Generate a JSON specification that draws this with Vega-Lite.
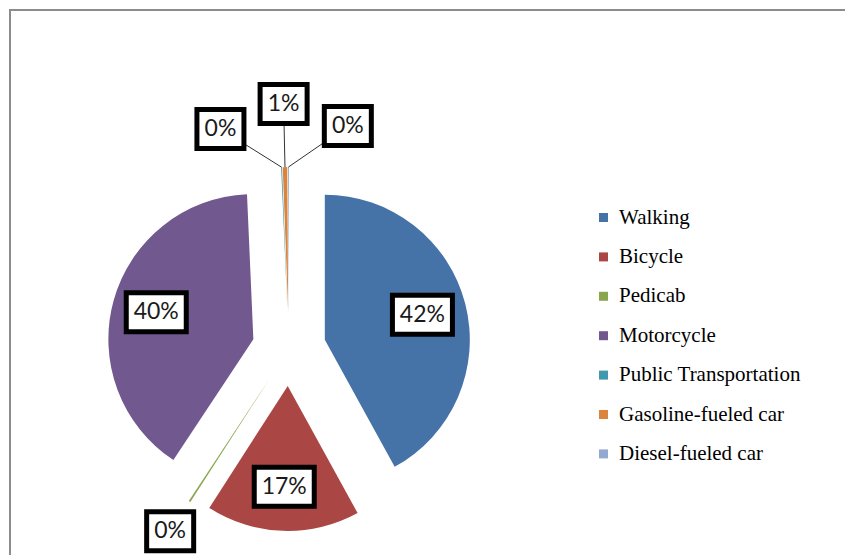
{
  "$schema": "https://vega.github.io/schema/vega-lite/v6.json",
  "width": 835,
  "height": 545,
  "autosize": "none",
  "padding": {"left": 10, "top": 10, "right": 0, "bottom": 0},
  "background": "white",
  "config": {"view": {"stroke": "#8c8c8c", "strokeWidth": 2, "strokeDash": [835, 1380, 545]}},
  "data": {"values": [
    {"mode": "Walking", "share": 0.420},
    {"mode": "Bicycle", "share": 0.171},
    {"mode": "Pedicab", "share": 0.002},
    {"mode": "Motorcycle", "share": 0.400},
    {"mode": "Public Transportation", "share": 0.001},
    {"mode": "Gasoline-fueled car", "share": 0.005},
    {"mode": "Diesel-fueled car", "share": 0.001}
  ]},
  "transform": [
    {"window": [{"op": "sum", "field": "share", "as": "end"}], "frame": [null, 0]},
    {"calculate": "datum.end - datum.share", "as": "start"},
    {"calculate": "2 * PI * (datum.start + datum.end) / 2", "as": "a"},
    {"calculate": "datum.share < 0.05 && (datum.start + datum.end) / 2 > 0.9 ? 1 : 0", "as": "cluster"},
    {"window": [{"op": "row_number", "as": "rk"}], "groupby": ["cluster"]},
    {"joinaggregate": [{"op": "count", "as": "n"}, {"op": "mean", "field": "a", "as": "ma"}], "groupby": ["cluster"]},
    {"calculate": "datum.cluster == 1 ? datum.rk - (datum.n + 1) / 2 : 0", "as": "k"},
    {"calculate": "datum.cluster == 1 ? datum.ma + datum.k * 0.28 : datum.a", "as": "la"},
    {"calculate": "datum.share >= 0.05 ? 0.95 : (datum.cluster == 1 ? 1.69 - 0.1 * abs(datum.k) : 1.5)", "as": "ld"},
    {"calculate": "0.255 * sin(datum.a)", "as": "cx"},
    {"calculate": "0.255 * cos(datum.a)", "as": "cy"},
    {"calculate": "1.255 * sin(datum.a)", "as": "tx"},
    {"calculate": "1.255 * cos(datum.a)", "as": "ty"},
    {"calculate": "datum.ld * sin(datum.la)", "as": "lx"},
    {"calculate": "datum.ld * cos(datum.la)", "as": "ly"},
    {"calculate": "format(datum.share, '.0%')", "as": "label"},
    {"calculate": "length(datum.label) > 2 ? 'wide' : 'narrow'", "as": "box"}
  ],
  "layer": [
    {
      "mark": {"type": "arc", "outerRadius": 145},
      "encoding": {
        "x": {"field": "cx", "type": "quantitative", "scale": {"domain": [-1, 1], "range": [134, 424], "zero": false, "nice": false}, "axis": null},
        "y": {"field": "cy", "type": "quantitative", "scale": {"domain": [-1, 1], "range": [484, 194], "zero": false, "nice": false}, "axis": null},
        "theta": {"field": "start", "type": "quantitative", "stack": null, "scale": {"type": "linear", "domain": [0, 1], "range": [0, 6.283185307179586]}},
        "theta2": {"field": "end"},
        "color": {
          "field": "mode", "type": "nominal",
          "scale": {
            "domain": ["Walking", "Bicycle", "Pedicab", "Motorcycle", "Public Transportation", "Gasoline-fueled car", "Diesel-fueled car"],
            "range": ["#4572A7", "#AA4643", "#89A54E", "#71588F", "#4198AF", "#DB843D", "#93A9CF"]
          },
          "legend": {
            "orient": "none", "legendX": 583, "legendY": 197, "title": null,
            "symbolType": "square", "symbolSize": 81, "symbolStrokeWidth": 0,
            "labelFont": "Liberation Serif", "labelFontSize": 21, "labelColor": "#000",
            "labelLimit": 400, "rowPadding": 17.4, "labelOffset": 5, "padding": 0
          }
        }
      }
    },
    {
      "transform": [{"filter": "datum.cluster == 1"}],
      "mark": {"type": "rule", "color": "#333333", "strokeWidth": 1},
      "encoding": {
        "x": {"field": "tx", "type": "quantitative"},
        "y": {"field": "ty", "type": "quantitative"},
        "x2": {"field": "lx"},
        "y2": {"field": "ly"}
      }
    },
    {
      "mark": {"type": "point", "filled": true, "fill": "white", "stroke": "#000", "strokeWidth": 5, "size": 900, "opacity": 1, "fillOpacity": 1, "strokeOpacity": 1},
      "encoding": {
        "x": {"field": "lx", "type": "quantitative"},
        "y": {"field": "ly", "type": "quantitative"},
        "shape": {"field": "box", "type": "nominal", "scale": {"domain": ["wide", "narrow"], "range": ["M-2,-1.3H2V1.3H-2Z", "M-1.567,-1.3H1.567V1.3H-1.567Z"]}, "legend": null}
      }
    },
    {
      "mark": {"type": "text", "font": "Lato", "fontSize": 23, "color": "#1a1a1a", "align": "center", "baseline": "middle"},
      "encoding": {
        "x": {"field": "lx", "type": "quantitative"},
        "y": {"field": "ly", "type": "quantitative"},
        "text": {"field": "label"}
      }
    }
  ]
}
